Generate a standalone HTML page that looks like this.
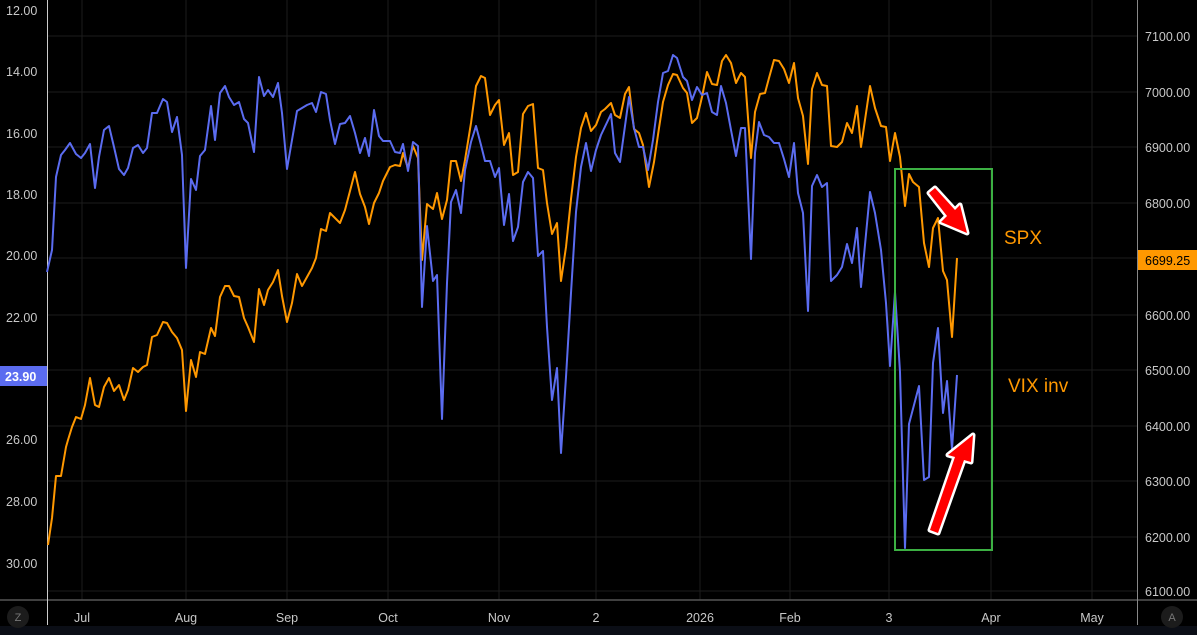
<!DOCTYPE html>
<html><head><meta charset="utf-8"><style>
html,body{margin:0;padding:0;background:#000;}
svg{display:block;font-family:"Liberation Sans",sans-serif;}
</style></head><body>
<svg width="1197" height="635" viewBox="0 0 1197 635" xmlns="http://www.w3.org/2000/svg">
<rect width="1197" height="635" fill="#000"/>
<rect x="0" y="626" width="1197" height="9" fill="#0b0e16"/>
<g stroke="#1c1c1c" stroke-width="1">
<line x1="47" y1="36" x2="1137" y2="36"/><line x1="47" y1="92" x2="1137" y2="92"/>
<line x1="47" y1="147" x2="1137" y2="147"/><line x1="47" y1="203" x2="1137" y2="203"/>
<line x1="47" y1="258" x2="1137" y2="258"/><line x1="47" y1="315" x2="1137" y2="315"/>
<line x1="47" y1="370" x2="1137" y2="370"/><line x1="47" y1="426" x2="1137" y2="426"/>
<line x1="47" y1="481" x2="1137" y2="481"/><line x1="47" y1="537" x2="1137" y2="537"/>
<line x1="47" y1="591" x2="1137" y2="591"/>
<line x1="82" y1="0" x2="82" y2="600"/><line x1="186" y1="0" x2="186" y2="600"/>
<line x1="287" y1="0" x2="287" y2="600"/><line x1="388" y1="0" x2="388" y2="600"/>
<line x1="499" y1="0" x2="499" y2="600"/><line x1="596" y1="0" x2="596" y2="600"/>
<line x1="700" y1="0" x2="700" y2="600"/><line x1="790" y1="0" x2="790" y2="600"/>
<line x1="889" y1="0" x2="889" y2="600"/><line x1="991" y1="0" x2="991" y2="600"/>
<line x1="1092" y1="0" x2="1092" y2="600"/>
</g>
<line x1="0" y1="600" x2="1197" y2="600" stroke="#555" stroke-width="1.5"/>
<line x1="47.5" y1="0" x2="47.5" y2="625" stroke="#ccc" stroke-width="1"/>
<line x1="1137.5" y1="0" x2="1137.5" y2="625" stroke="#888" stroke-width="1"/>

<polyline fill="none" stroke="#ff9800" stroke-width="2" stroke-linejoin="round" points="48,545 52,518 56,476 61,476 66,447 68,440 72,427 76,417 81,419 85,405 90,378 95,405 99,407 104,387 109,378 114,391 119,385 124,400 128,390 133,368 138,372 143,367 147,365 152,337 157,335 163,322 167,323 172,332 177,338 182,350 186,411 191,360 196,377 200,352 205,354 211,328 215,336 220,297 225,286 229,286 234,296 239,297 244,318 248,327 254,342 259,289 264,305 268,290 273,282 278,270 282,296 287,322 292,303 297,274 302,286 307,277 312,268 316,258 321,229 326,231 330,213 335,218 340,223 345,210 355,172 360,194 365,207 369,224 374,203 379,193 383,181 390,167 395,165 400,166 403,153 408,168 413,146 418,158 422,260 427,204 433,209 437,193 442,219 447,200 451,161 456,161 461,181 465,160 471,123 476,86 481,76 485,78 490,115 495,105 499,100 504,145 509,133 513,175 518,172 523,114 528,106 533,104 538,168 543,170 547,203 552,234 557,223 561,281 566,247 571,199 576,157 581,128 586,113 591,131 596,125 601,112 605,109 611,103 615,115 620,118 625,94 629,87 634,129 639,133 643,145 649,187 654,162 659,128 663,102 668,85 673,74 677,75 683,88 687,93 692,123 697,118 702,97 707,72 712,84 717,85 722,61 726,55 731,63 736,83 741,73 745,77 751,158 755,112 760,94 765,93 769,78 774,60 779,61 784,69 789,83 794,63 798,98 803,116 808,164 812,89 817,73 822,85 827,86 831,146 837,147 842,142 847,123 852,133 857,106 861,147 870,86 875,108 881,126 886,127 890,161 895,133 900,157 905,206 909,174 913,182 919,187 924,243 929,267 933,228 938,218 943,271 947,280 952,337 957,258"/>

<polyline fill="none" stroke="#5b6cf0" stroke-width="2" stroke-linejoin="round" points="47,272 52,250 56,177 61,155 65,150 70,143 76,154 81,158 85,153 90,144 95,188 99,157 104,130 109,126 114,147 119,169 124,175 128,168 133,148 138,145 143,153 147,148 152,113 157,113 163,99 167,102 172,132 177,117 182,155 186,268 191,179 196,190 200,156 205,150 211,106 215,140 220,93 225,86 229,97 234,105 239,102 244,119 248,123 254,152 259,77 264,96 268,90 273,97 278,83 282,113 287,169 292,140 297,111 302,108 307,105 312,103 316,112 321,92 326,94 330,120 335,144 340,124 345,123 350,116 355,133 360,153 365,138 369,156 374,110 379,136 383,141 390,141 395,152 400,153 403,144 408,171 413,142 418,146 422,307 427,226 433,281 437,275 442,419 447,283 451,202 456,190 461,213 465,170 471,142 476,126 481,145 485,161 490,161 495,177 499,168 504,225 509,194 513,241 518,227 523,182 528,172 533,178 538,256 543,251 547,327 552,400 557,368 561,453 566,377 571,293 576,212 581,167 586,143 591,171 596,150 601,135 611,114 615,153 620,162 629,97 634,128 639,147 643,147 648,170 653,140 658,102 663,73 668,71 673,55 677,58 683,77 687,81 692,100 697,87 702,95 707,93 712,112 717,115 721,86 726,103 731,130 736,156 741,128 745,128 751,259 755,153 759,122 764,135 769,137 774,143 779,143 784,159 789,177 794,143 798,193 803,213 808,311 812,186 817,175 822,187 827,183 831,281 837,275 842,267 847,244 852,263 857,228 861,287 870,192 875,213 881,250 886,303 890,366 895,292 900,372 905,548 909,424 919,386 924,480 929,477 933,363 938,328 943,413 947,381 952,449 957,375"/>

<rect x="895" y="169" width="97" height="381" fill="none" stroke="#3cb043" stroke-width="2"/>
<g stroke="#fff" stroke-width="5" stroke-linejoin="round" fill="#f00">
<polygon points="935,188 955,210 960,205 967,233 941,222 947,216 929,193"/>
<polygon points="930,530 955,457 948,455 973,435 971,462 964,460 938,533"/>
</g>
<g fill="#f00">
<polygon points="935,188 955,210 960,205 967,233 941,222 947,216 929,193"/>
<polygon points="930,530 955,457 948,455 973,435 971,462 964,460 938,533"/>
</g>
<text x="1004" y="244" fill="#ff9800" font-size="19">SPX</text>
<text x="1008" y="392" fill="#ff9800" font-size="19">VIX inv</text>

<g fill="#c8c8c8" font-size="12.5">
<text x="6" y="15">12.00</text><text x="6" y="76">14.00</text><text x="6" y="138">16.00</text>
<text x="6" y="199">18.00</text><text x="6" y="260">20.00</text><text x="6" y="322">22.00</text>
<text x="6" y="444">26.00</text><text x="6" y="506">28.00</text><text x="6" y="568">30.00</text>
<text x="1145" y="41">7100.00</text><text x="1145" y="97">7000.00</text><text x="1145" y="152">6900.00</text>
<text x="1145" y="208">6800.00</text><text x="1145" y="320">6600.00</text><text x="1145" y="375">6500.00</text>
<text x="1145" y="431">6400.00</text><text x="1145" y="486">6300.00</text><text x="1145" y="542">6200.00</text>
<text x="1145" y="596">6100.00</text>
</g>
<rect x="0" y="366" width="47" height="20" fill="#5b6cf0"/>
<text x="5" y="381" fill="#fff" font-size="12.5" font-weight="bold">23.90</text>
<rect x="1138" y="250" width="59" height="20" fill="#ff9800"/>
<text x="1145" y="265" fill="#000" font-size="12.5">6699.25</text>

<g fill="#c8c8c8" font-size="12.5" text-anchor="middle">
<text x="82" y="622">Jul</text><text x="186" y="622">Aug</text><text x="287" y="622">Sep</text>
<text x="388" y="622">Oct</text><text x="499" y="622">Nov</text><text x="596" y="622">2</text>
<text x="700" y="622">2026</text><text x="790" y="622">Feb</text><text x="889" y="622">3</text>
<text x="991" y="622">Apr</text><text x="1092" y="622">May</text>
</g>
<circle cx="18" cy="617" r="11" fill="#1c1c1c"/><text x="18" y="621" fill="#777" font-size="11" text-anchor="middle">Z</text>
<circle cx="1172" cy="617" r="11" fill="#1c1c1c"/><text x="1172" y="621" fill="#777" font-size="11" text-anchor="middle">A</text>
</svg>
</body></html>
